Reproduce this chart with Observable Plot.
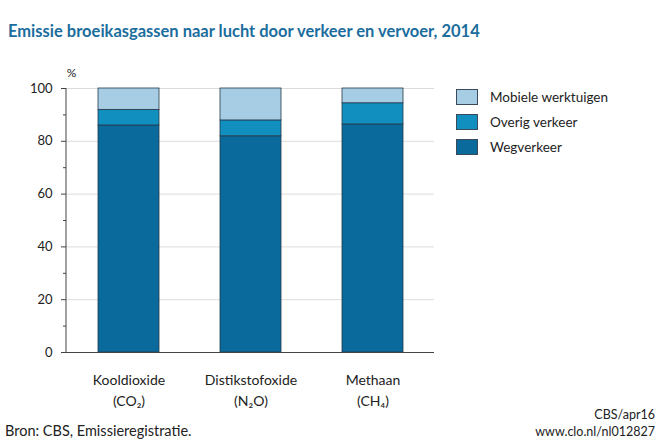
<!DOCTYPE html>
<html>
<head>
<meta charset="utf-8">
<script src="https://cdn.jsdelivr.net/npm/d3@7"></script>
<script src="https://cdn.jsdelivr.net/npm/@observablehq/plot@0.6"></script>
<style>
  html, body { margin: 0; padding: 0; background: #fff; }
  #wrap { position: relative; width: 660px; height: 441px; font-family: Lato, "Open Sans", sans-serif; color: #222; overflow: hidden; }
  #title { position: absolute; left: 8px; top: 21px; font-size: 16.5px; font-weight: bold; color: #1b6d9d; white-space: nowrap; }
  #chart { position: absolute; left: 0; top: 0; }
  .legend { position: absolute; left: 456px; top: 84px; }
  .legend .row { display: flex; align-items: center; height: 25px; font-size: 13.5px; color: #222; }
  .legend .sw { width: 22px; height: 16px; border: 1px solid #3a4a5a; box-sizing: border-box; margin-right: 12px; }
  #src { position: absolute; left: 5px; top: 422px; font-size: 14.5px; color: #222; }
  #cred { position: absolute; right: 5px; top: 406px; font-size: 12.5px; color: #222; text-align: right; line-height: 17px; }
</style>
</head>
<body>
<div id="wrap">
  <div id="chart"></div>
  <div id="title"></div>
  <div class="legend" id="legend"></div>
  <div id="src"></div>
  <div id="cred"></div>
</div>
<script>
const title = "Emissie broeikasgassen naar lucht door verkeer en vervoer, 2014";
const categories = ["Kooldioxide", "Distikstofoxide", "Methaan"];
const formulas = ["(CO₂)", "(N₂O)", "(CH₄)"];
const series = ["Wegverkeer", "Overig verkeer", "Mobiele werktuigen"];
const legendOrder = ["Mobiele werktuigen", "Overig verkeer", "Wegverkeer"];
const wegverkeer = [86.0, 81.9, 86.4];
const overigVerkeer = [5.9, 6.0, 8.0];
const mobieleWerktuigen = [8.1, 12.1, 5.6];
const colors = ["#0a6a9c", "#1190c0", "#a6cde3"];
const majorTicks = [0, 20, 40, 60, 80, 100];
const minorTicks = [10, 30, 50, 70, 90];
const unitLabel = "%";
const source = "Bron: CBS, Emissieregistratie.";
const credits = ["CBS/apr16", "www.clo.nl/nl012827"];

const values = [wegverkeer, overigVerkeer, mobieleWerktuigen];
const data = categories.flatMap((c, i) => series.map((s, j) => ({cat: c, serie: s, value: values[j][i]})));

const font = "Lato, 'Open Sans', sans-serif";

const yAxisLine = (index, scales, vals, dims) => {
  const g = d3.create("svg:line")
    .attr("x1", dims.marginLeft).attr("x2", dims.marginLeft)
    .attr("y1", scales.y(0)).attr("y2", scales.y(100))
    .attr("stroke", "#444").attr("stroke-width", 1);
  return g.node();
};

const chart = Plot.plot({
  width: 660,
  height: 441,
  marginTop: 88,
  marginBottom: 89,
  marginLeft: 66,
  marginRight: 226,
  style: {fontFamily: font, color: "#222", background: "transparent"},
  x: {domain: categories, paddingInner: 0.5, paddingOuter: 0.25, label: null},
  y: {domain: [0, 100], label: null},
  color: {domain: series, range: colors},
  marks: [
    Plot.ruleY(majorTicks.slice(1), {stroke: "#dcdcdc", strokeWidth: 1}),
    Plot.barY(data, {x: "cat", y: "value", fill: "serie", order: series, stroke: "#24384a", strokeWidth: 0.8}),
    Plot.ruleY([0], {stroke: "#444", strokeWidth: 1}),
    yAxisLine,
    Plot.axisY({ticks: majorTicks, tickSize: 5, tickPadding: 9, fontSize: 13, stroke: "#444", label: null}),
    Plot.axisY({ticks: minorTicks, tickSize: 3, tickFormat: () => "", stroke: "#444", label: null}),
    Plot.axisX({tickSize: 0, tickPadding: 18, fontSize: 14, lineHeight: 1.5, label: null,
      tickFormat: d => d + "\n" + formulas[categories.indexOf(d)]}),
    Plot.text([unitLabel], {frameAnchor: "top-left", dx: 5, dy: -20, fontSize: 12, textAnchor: "middle"})
  ]
});
document.getElementById("chart").appendChild(chart);

document.getElementById("title").textContent = title;
const leg = document.getElementById("legend");
legendOrder.forEach(s => {
  const row = document.createElement("div");
  row.className = "row";
  const sw = document.createElement("div");
  sw.className = "sw";
  sw.style.background = colors[series.indexOf(s)];
  const t = document.createElement("span");
  t.textContent = s;
  row.appendChild(sw); row.appendChild(t);
  leg.appendChild(row);
});
document.getElementById("src").textContent = source;
document.getElementById("cred").innerHTML = credits.join("<br>");
</script>
</body>
</html>
